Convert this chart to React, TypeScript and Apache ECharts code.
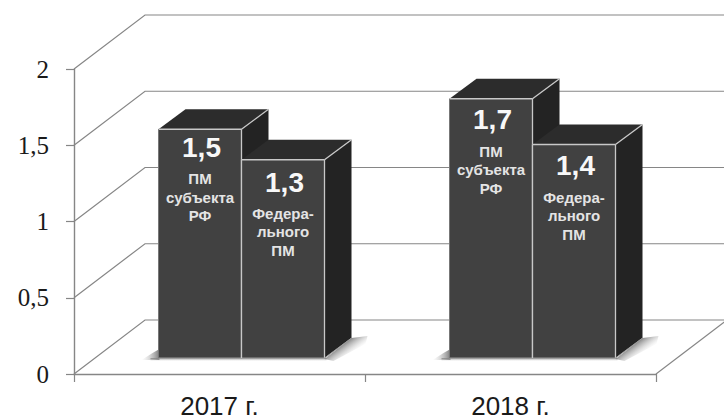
import React, { useEffect, useRef } from "react";
import * as echarts from "echarts";

const categories = ["2017 г.", "2018 г."];
const regionalValues = [1.5, 1.7];
const federalValues = [1.3, 1.4];
const regionalLabel = "ПМ\nсубъекта\nРФ";
const federalLabel = "Федера-\nльного\nПМ";
const wallTicks = [0, 0.5, 1, 1.5, 2];

// Layout of the pseudo-3D scene (pixels)
const WALL_DX = 71;
const WALL_DY = 54;
const FLOOR_DX = 22;
const FLOOR_DY = 16;
const BAR_W = 83;
const BAR_DX = 27;
const BAR_DY = 20;
const comma = (v: number) => String(v).replace(".", ",");

const wallItem = (params: any, api: any) => {
  const v = api.value(0);
  const band = api.size([1, 0])[0];
  const [c0, y] = api.coord([0, v]);
  const [c1] = api.coord([1, v]);
  const x0 = c0 - band / 2;
  const x1 = c1 + band / 2;
  const lineStyle = { stroke: "#868686", lineWidth: 1.2, fill: "none" };
  const children: any[] = [
    {
      type: "polyline",
      shape: { points: [[x0, y], [x0 + WALL_DX, y - WALL_DY], [x1 + WALL_DX, y - WALL_DY]] },
      style: lineStyle,
    },
  ];
  if (v === 0) {
    children.push({
      type: "line",
      shape: { x1, y1: y, x2: x1 + WALL_DX, y2: y - WALL_DY },
      style: lineStyle,
    });
  }
  return { type: "group", children };
};

const fade = (x: number, y: number, x2: number, y2: number) => ({
  type: "linear",
  x,
  y,
  x2,
  y2,
  global: true,
  colorStops: [
    { offset: 0, color: "rgba(120,120,120,0.9)" },
    { offset: 1, color: "rgba(200,200,200,0)" },
  ],
});

const shadowItem = (params: any, api: any) => {
  const idx = api.value(0);
  const [cx, base] = api.coord([idx, 0]);
  const L = cx + FLOOR_DX - BAR_W;
  const R = cx + FLOOR_DX + BAR_W;
  const B = base - FLOOR_DY;
  return {
    type: "group",
    children: [
      {
        type: "polygon",
        shape: { points: [[L + 1, B + 2], [L - 17, B + 2], [L - 6, B - 5], [L + 1, B - 9]] },
        style: { fill: fade(L, B, L - 17, B) },
      },
      {
        type: "rect",
        shape: { x: L - 8, y: B, width: R - L + 10, height: 3 },
        style: { fill: fade(L, B, L, B + 3) },
      },
      {
        type: "polygon",
        shape: {
          points: [
            [R, B + 1],
            [R + BAR_DX, B - BAR_DY],
            [R + BAR_DX + 16, B - BAR_DY - 2],
            [R + BAR_DX + 14, B - BAR_DY + 6],
            [R + 9, B + 3],
          ],
        },
        style: { fill: fade(R + 13, B - 10, R + 21, B + 1) },
      },
    ],
  };
};

const barItem =
  (side: number, label: string, valueOffsets: number[], labelOffsets: number[]) =>
  (params: any, api: any) => {
    const idx = api.value(0);
    const v = api.value(1);
    const [cx, top0] = api.coord([idx, v]);
    const [, base0] = api.coord([idx, 0]);
    const L = cx + FLOOR_DX + (side === 0 ? -BAR_W : 0);
    const R = L + BAR_W;
    const T = top0 - FLOOR_DY;
    const B = base0 - FLOOR_DY;
    const edge = { stroke: "#c8c8c8", lineWidth: 1.3 };
    const seg = (x1: number, y1: number, x2: number, y2: number, style: any) => ({
      type: "line",
      shape: { x1, y1, x2, y2 },
      style,
    });
    return {
      type: "group",
      children: [
        {
          type: "polygon",
          shape: { points: [[L, T], [L + BAR_DX, T - BAR_DY], [R + BAR_DX, T - BAR_DY], [R, T]] },
          style: { fill: "#2c2c2c" },
        },
        {
          type: "polygon",
          shape: { points: [[R, T], [R + BAR_DX, T - BAR_DY], [R + BAR_DX, B - BAR_DY], [R, B]] },
          style: { fill: "#232323" },
        },
        {
          type: "rect",
          shape: { x: L, y: T, width: BAR_W, height: B - T },
          style: { fill: "#414141" },
        },
        seg(L, T, R, T, edge),
        seg(R, T, R, B, edge),
        seg(L, B, R, B, { stroke: "#9a9a9a", lineWidth: 1 }),
        seg(L, T, L, B, side === 0 ? { stroke: "#777777", lineWidth: 1 } : edge),
        seg(R, T, R + BAR_DX, T - BAR_DY, edge),
        seg(R, B, R + BAR_DX, B - BAR_DY, { stroke: "#9a9a9a", lineWidth: 1 }),
        {
          type: "text",
          x: L + BAR_W / 2 + 1.5,
          y: T + valueOffsets[idx],
          style: {
            text: comma(v),
            fill: "#f8f8f8",
            font: "bold 28px Liberation Sans",
            align: "center",
            verticalAlign: "middle",
          },
        },
        {
          type: "text",
          x: L + BAR_W / 2,
          y: T + labelOffsets[idx],
          style: {
            text: label,
            fill: "#e4e4e4",
            font: "bold 15px Liberation Sans",
            lineHeight: 18.5,
            align: "center",
            verticalAlign: "middle",
          },
        },
      ],
    };
  };

export default function App() {
  const ref = useRef<HTMLDivElement>(null);
  useEffect(() => {
    document.body.style.margin = "0";
    const chart = echarts.init(ref.current!, null, { renderer: "svg" });
    chart.setOption({
      animation: false,
      backgroundColor: "#ffffff",
      grid: { left: 74, right: 68, top: 69, bottom: 46 },
      xAxis: {
        type: "category",
        data: categories,
        boundaryGap: true,
        axisLine: { lineStyle: { color: "#868686", width: 1.4 } },
        axisTick: { show: true, length: 8, lineStyle: { color: "#868686", width: 1.2 } },
        axisLabel: {
          margin: 19,
          color: "#1a1a1a",
          fontFamily: "Liberation Sans",
          fontSize: 26,
        },
        splitLine: { show: false },
      },
      yAxis: {
        type: "value",
        min: 0,
        max: 2,
        interval: 0.5,
        axisLine: { show: true, lineStyle: { color: "#868686", width: 1.4 } },
        axisTick: { show: true, length: 8, lineStyle: { color: "#868686", width: 1.2 } },
        axisLabel: {
          margin: 25,
          formatter: (v: number) => "{s|" + comma(v) + "}",
          rich: {
            s: {
              color: "#1a1a1a",
              fontFamily: "Liberation Serif",
              fontSize: 25,
            },
          },
        },
        splitLine: { show: false },
      },
      series: [
        {
          type: "custom",
          name: "walls",
          renderItem: wallItem,
          data: wallTicks.map((v) => [v]),
          encode: { y: 0 },
          silent: true,
          z: 1,
        },
        {
          type: "custom",
          name: "shadows",
          renderItem: shadowItem,
          data: categories.map((_, i) => [i]),
          encode: { x: 0 },
          silent: true,
          z: 2,
        },
        {
          type: "custom",
          name: "ПМ субъекта РФ",
          renderItem: barItem(0, regionalLabel, [18, 21], [68, 71]),
          data: regionalValues.map((v, i) => [i, v]),
          encode: { x: 0, y: 1 },
          z: 3,
        },
        {
          type: "custom",
          name: "Федерального ПМ",
          renderItem: barItem(1, federalLabel, [23, 20.5], [72, 71]),
          data: federalValues.map((v, i) => [i, v]),
          encode: { x: 0, y: 1 },
          z: 4,
        },
      ],
    });
    return () => chart.dispose();
  }, []);
  return <div ref={ref} style={{ width: 724, height: 420 }} />;
}
